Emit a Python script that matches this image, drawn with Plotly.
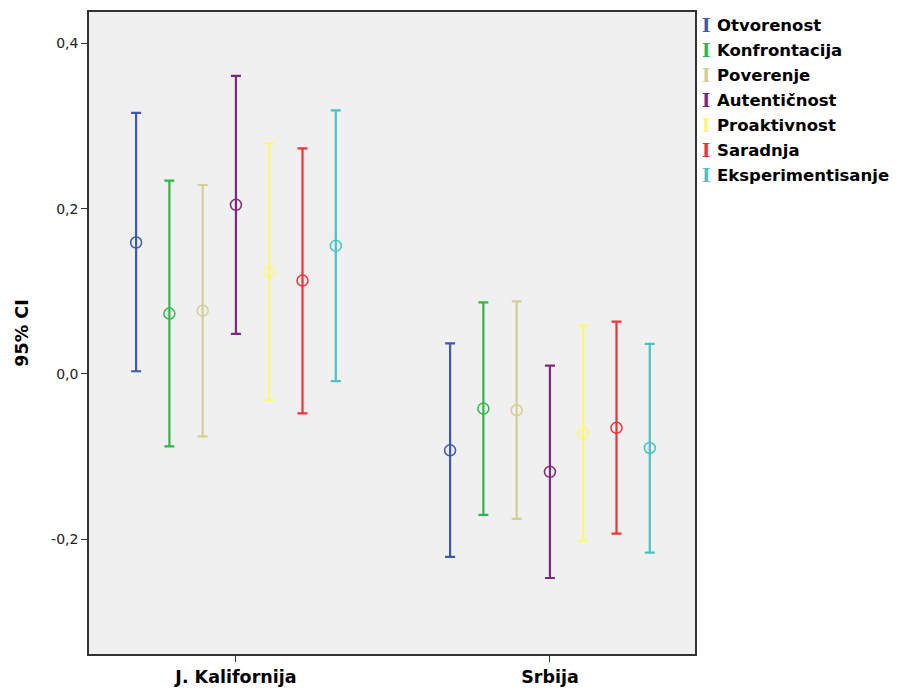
import plotly.graph_objects as go

categories = ["J. Kalifornija", "Srbija"]
series = ["Otvorenost", "Konfrontacija", "Poverenje", "Autentičnost",
          "Proaktivnost", "Saradnja", "Eksperimentisanje"]
colors = ["#3E58AC", "#2EB848", "#D3CE97", "#7C287D", "#FBF873", "#EF3338", "#48C2C5"]

# mean, upper CI, lower CI per series (J. Kalifornija, Srbija)
means = [
    [0.159, -0.0925],
    [0.073, -0.042],
    [0.0765, -0.044],
    [0.2046, -0.1185],
    [0.1237, -0.0713],
    [0.1129, -0.0653],
    [0.155, -0.0897],
]
upper = [
    [0.316, 0.0369],
    [0.234, 0.0865],
    [0.2286, 0.0877],
    [0.3607, 0.010],
    [0.279, 0.0585],
    [0.273, 0.0633],
    [0.319, 0.0364],
]
lower = [
    [0.0032, -0.2214],
    [-0.0877, -0.1706],
    [-0.0757, -0.1754],
    [0.0484, -0.247],
    [-0.0316, -0.2018],
    [-0.0477, -0.1934],
    [-0.0088, -0.2162],
]
ytick_vals = [-0.2, 0.0, 0.2, 0.4]
ytick_text = ["-0,2", "0,0", "0,2", "0,4"]

FONT = "DejaVu Sans"
fig = go.Figure()
n = len(series)
step = 0.106
for i, name in enumerate(series):
    xs = [g + (i - (n - 1) / 2) * step for g in range(len(categories))]
    fig.add_trace(go.Scatter(
        x=xs, y=means[i], mode="markers", name=name, showlegend=False,
        marker=dict(symbol="circle-open", size=11, color=colors[i], line=dict(width=1.5, color=colors[i])),
        error_y=dict(type="data", symmetric=False,
                     array=[u - m for u, m in zip(upper[i], means[i])],
                     arrayminus=[m - l for m, l in zip(means[i], lower[i])],
                     color=colors[i], thickness=2.2, width=5),
    ))

# legend as annotations
L, R, T, B = 89, 695, 10, 657
W, H = R - L, B - T
for i, name in enumerate(series):
    py = 24 + i * 25.2
    yp = (B - py) / H
    fig.add_annotation(x=(700 - L) / W, y=yp, xref="paper", yref="paper", xanchor="left", yanchor="middle",
                       text="<b>I</b>", showarrow=False,
                       font=dict(family="DejaVu Serif", size=18, color=colors[i]))
    fig.add_annotation(x=(715 - L) / W, y=yp, xref="paper", yref="paper", xanchor="left", yanchor="middle",
                       text="<b>" + name + "</b>", showarrow=False,
                       font=dict(family=FONT, size=16.5, color="black"))

fig.update_layout(
    width=898, height=697,
    margin=dict(l=L, r=898 - R, t=T, b=697 - B),
    paper_bgcolor="white", plot_bgcolor="#F0F0F0",
    font=dict(family=FONT, color="black"),
    xaxis=dict(range=[-0.468, 1.462], tickvals=list(range(len(categories))), ticktext=["<b>" + c + "</b>" for c in categories],
               showgrid=False, zeroline=False, showline=True, mirror=True, linecolor="#333333", linewidth=1.5,
               ticks="outside", ticklen=6, tickcolor="#333333", tickfont=dict(size=17.5, family=FONT)),
    yaxis=dict(range=[-0.339, 0.438], tickvals=ytick_vals, ticktext=ytick_text,
               showgrid=False, zeroline=False, showline=True, mirror=True, linecolor="#333333", linewidth=1.5,
               ticks="outside", ticklen=6, tickcolor="#333333", tickfont=dict(size=14, family=FONT, color="#222222"),
               title=dict(text="<b>95% CI</b>", font=dict(size=17.5, family=FONT), standoff=18)),
)

fig.write_html("out.html", config={"displayModeBar": False},
               post_script="document.body.style.margin='0';document.body.style.padding='0';")
